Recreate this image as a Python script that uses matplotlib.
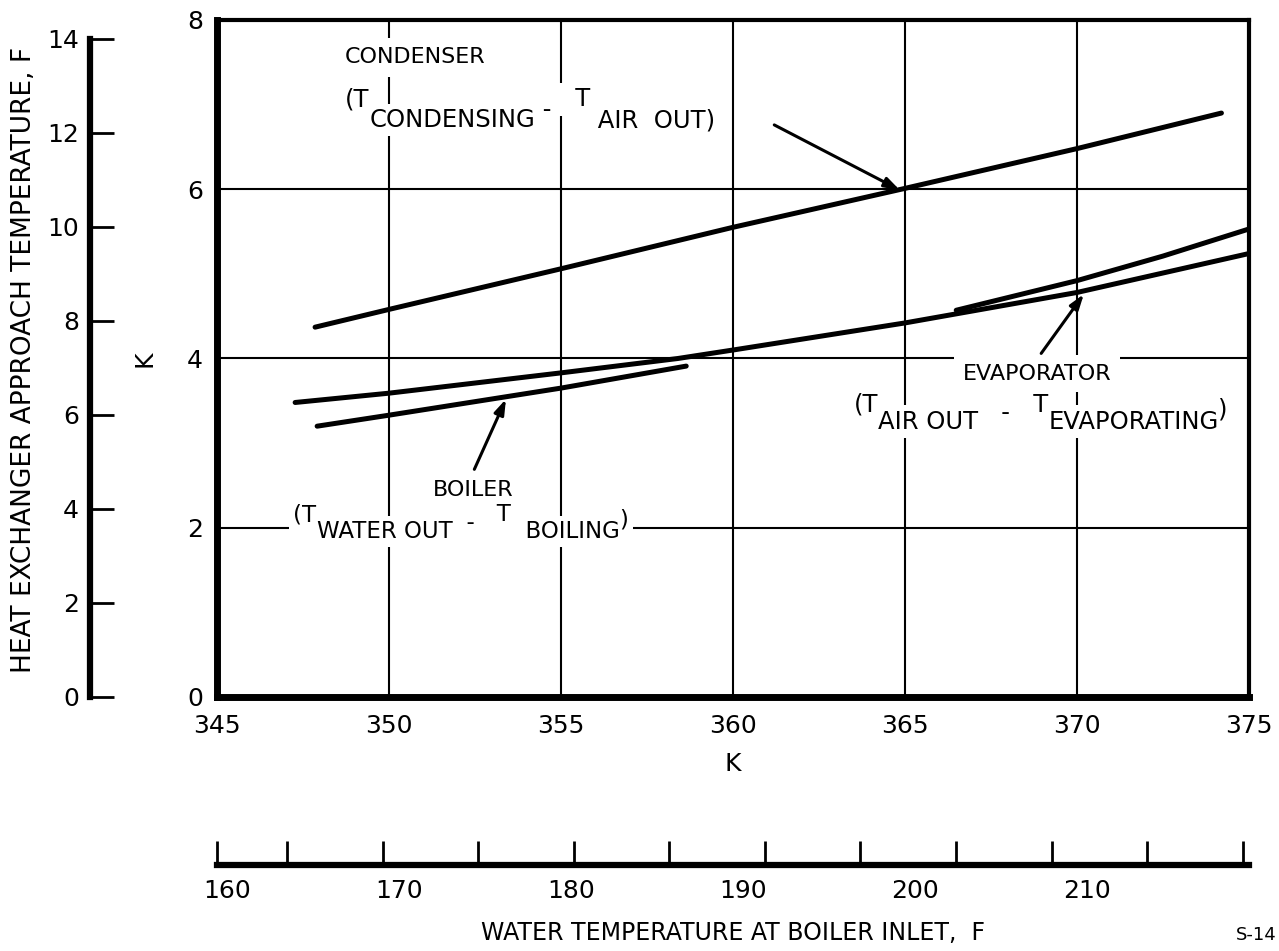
"""Heat exchanger approach temperature vs boiler inlet water temperature."""

import matplotlib.pyplot as plt
import numpy as np

plt.rcParams["font.family"] = ["DejaVu Sans"]

# curves, x = water temperature at boiler inlet [K], y = approach temperature [K]
condenser_k = [347.85, 350.0, 355.0, 360.0, 365.0, 370.0, 374.2]
condenser_dt = [4.37, 4.58, 5.06, 5.55, 6.01, 6.48, 6.90]

evap_k = [347.27, 350.0, 355.0, 358.4, 360.0, 365.0, 370.0, 375.0]
evap_dt = [3.48, 3.59, 3.83, 4.00, 4.10, 4.42, 4.78, 5.24]

boiler_k = [347.91, 350.0, 355.0, 358.64]
boiler_dt = [3.20, 3.33, 3.65, 3.91]

upper_k = [366.49, 370.0, 372.5, 375.0]
upper_dt = [4.57, 4.92, 5.21, 5.53]

k_ticks = [345, 350, 355, 360, 365, 370, 375]
dt_ticks = [0, 2, 4, 6, 8]
f_dt_ticks = [0, 2, 4, 6, 8, 10, 12, 14]
f_temp_ticks = [165, 170, 175, 180, 185, 190, 195, 200, 205, 210, 215]
f_temp_labels = ["160", "170", "180", "190", "200", "210"]

FS = 18


def k_to_f(k):
    return (np.asarray(k) - 273.15) * 1.8 + 32.0


def f_to_k(f):
    return (np.asarray(f) - 32.0) / 1.8 + 273.15


def formula(ax, x, y, pieces, size=16, drop=12):
    """Chain text pieces; level 0 = normal row, 1 = subscript row.
    First pass lays white boxes, second pass draws the text on top."""
    for color, box, z in [("white", dict(facecolor="white", edgecolor="none", pad=3), 3),
                          ("black", None, 3.5)]:
        s, lev = pieces[0]
        t = ax.text(x, y, s, fontsize=size, va="bottom", ha="left", bbox=box,
                    color=color, zorder=z)
        for s, new in pieces[1:]:
            t = ax.annotate(s, xy=(1, 0), xycoords=t, xytext=(0, -(new - lev) * drop),
                            textcoords="offset points", va="bottom", ha="left",
                            fontsize=size, bbox=box, color=color, zorder=z)
            lev = new


def arrow(ax, tail, tip):
    ax.annotate("", xy=tip, xytext=tail,
                arrowprops=dict(arrowstyle="-|>,head_length=0.9,head_width=0.3",
                                lw=2.2, color="black", shrinkA=0, shrinkB=0))


fig = plt.figure(figsize=(12.79, 9.51), dpi=100)
ax = fig.add_axes([0.1697, 0.2671, 0.8068, 0.7119])
ax.set_xlim(345, 375)
ax.set_ylim(0, 8)
ax.set_xticks(k_ticks)
ax.set_yticks(dt_ticks)
ax.grid(True, color="black", lw=1.5)
ax.set_axisbelow(True)
ax.tick_params(length=0, labelsize=FS)
ax.tick_params(axis="x", pad=12)
ax.tick_params(axis="y", pad=10)
for side, lw in [("left", 5), ("bottom", 5), ("top", 3), ("right", 3)]:
    ax.spines[side].set_linewidth(lw)
ax.set_xlabel("K", fontsize=FS, labelpad=10)
ax.set_ylabel("K", fontsize=FS, labelpad=22)

for xs, ys in [(condenser_k, condenser_dt), (evap_k, evap_dt),
               (boiler_k, boiler_dt), (upper_k, upper_dt)]:
    ax.plot(xs, ys, color="black", lw=3.6, solid_capstyle="round", zorder=4)

# left axis in F (temperature difference)
sy = ax.secondary_yaxis(-0.123, functions=(lambda k: k * 1.8, lambda f: f / 1.8))
sy.set_yticks(f_dt_ticks)
sy.tick_params(direction="in", length=17, width=2, labelsize=FS, pad=8)
sy.spines["left"].set_linewidth(4.5)
sy.spines["left"].set_bounds(0, 14)
fig.text(0.019, 0.621, "HEAT EXCHANGER APPROACH TEMPERATURE, F", rotation=90,
         fontsize=19, ha="center", va="center")

# bottom axis in F (absolute temperature)
sx = ax.secondary_xaxis(-0.248, functions=(k_to_f, f_to_k))
sx.set_xticks([float(k_to_f(345))] + f_temp_ticks, labels=[""] * (len(f_temp_ticks) + 1))
sx.tick_params(direction="in", length=17, width=2)
label_pos = k_to_f(np.arange(345, 375, 5) + 0.3)
sx.set_xticks(label_pos, labels=f_temp_labels, minor=True)
sx.tick_params(which="minor", length=0, labelsize=FS, pad=10)
sx.spines["bottom"].set_linewidth(4.5)
sx.spines["bottom"].set_bounds(float(k_to_f(345)), float(k_to_f(375)))
sx.set_xlabel("WATER TEMPERATURE AT BOILER INLET,  F", fontsize=17, labelpad=13)
fig.text(0.966, 0.017, "S-14", fontsize=13, ha="left", va="center")

# annotations
ax.text(348.72, 7.44, "CONDENSER", fontsize=16, ha="left", va="bottom",
        bbox=dict(facecolor="white", edgecolor="none", pad=7))
formula(ax, 348.72, 6.92,
        [("(T", 0), ("CONDENSING", 1), (" -", 0.5), ("   T", 0), (" AIR  OUT)", 1)],
        size=17.5, drop=15)
arrow(ax, (361.2, 6.76), (364.85, 5.99))

ax.text(351.28, 2.33, "BOILER", fontsize=16, ha="left", va="bottom",
        bbox=dict(facecolor="white", edgecolor="none", pad=3))
formula(ax, 347.22, 2.02,
        [("(T", 0), ("WATER OUT", 1), ("  -", 0.5), ("   T", 0), ("  BOILING", 1),
         (")", 0.3)],
        size=16.5, drop=12)
arrow(ax, (352.48, 2.69), (353.40, 3.52))

ax.text(366.68, 3.70, "EVAPORATOR", fontsize=16, ha="left", va="bottom",
        bbox=dict(facecolor="white", edgecolor="none", pad=6))
formula(ax, 363.5, 3.31,
        [("(T", 0), ("AIR OUT", 1), ("   -", 0.5), ("   T", 0), ("EVAPORATING", 1),
         (")", 0.3)],
        size=17.5, drop=12)
arrow(ax, (368.96, 4.06), (370.2, 4.76))

fig.savefig("out.png", dpi=100)
